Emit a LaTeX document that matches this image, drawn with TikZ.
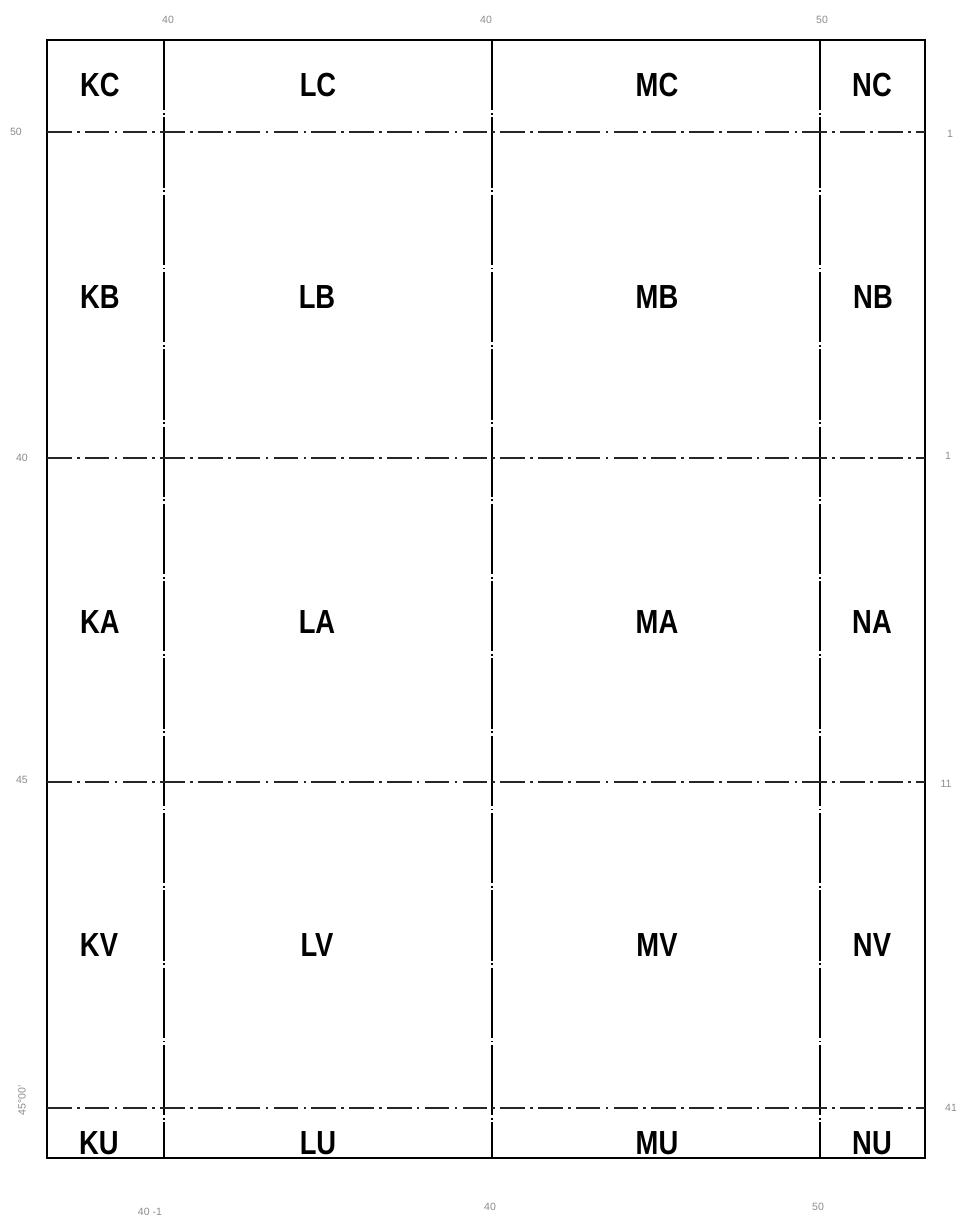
\documentclass[tikz,border=0pt]{standalone}
\usepackage{fontspec}
\setmainfont{Liberation Sans}
\newfontfamily\cellfont[FakeStretch=0.82]{Liberation Sans}
\begin{document}
\begin{tikzpicture}[x=0.02cm,y=-0.02cm,
  cell/.style={font=\cellfont\bfseries\fontsize{19}{19}\selectfont, inner sep=0pt},
  tick/.style={font=\fontsize{6}{6}\selectfont, text=black!45, inner sep=0pt},
  frame/.style={line width=0.9pt, black},
  vline/.style={line width=0.9pt, black, dash pattern=on 40pt off 1.5pt on 1pt off 1.5pt},
  hline/.style={line width=0.7pt, black!85, dash pattern=on 14pt off 3pt on 1.5pt off 3pt}]
\useasboundingbox (0,0) rectangle (957,1221);
% outer frame
\draw[frame] (47,40) rectangle (925,1158);
% vertical dividers
\foreach \x in {164,492,820} \draw[vline] (\x,40) -- (\x,1158);
% horizontal dash-dot dividers
\foreach \y in {132,458,782,1108} \draw[hline] (47,\y) -- (925,\y);
% cell labels
\node[cell] (KC) at (100,85) {KC};
\node[cell] (LC) at (318,85) {LC};
\node[cell] (MC) at (657,85) {MC};
\node[cell] (NC) at (872,85) {NC};
\node[cell] (KB) at (100,297) {KB};
\node[cell] (LB) at (317,297) {LB};
\node[cell] (MB) at (657,297) {MB};
\node[cell] (NB) at (873,297) {NB};
\node[cell] (KA) at (100,622) {KA};
\node[cell] (LA) at (317,622) {LA};
\node[cell] (MA) at (657,622) {MA};
\node[cell] (NA) at (872,622) {NA};
\node[cell] (KV) at (99,945) {KV};
\node[cell] (LV) at (317,945) {LV};
\node[cell] (MV) at (657,945) {MV};
\node[cell] (NV) at (872,945) {NV};
\node[cell] (KU) at (99,1143) {KU};
\node[cell] (LU) at (318,1143) {LU};
\node[cell] (MU) at (657,1143) {MU};
\node[cell] (NU) at (872,1143) {NU};
% faint margin graduations
\node[tick] (t1) at (168,20) {40};
\node[tick] (t2) at (486,20) {40};
\node[tick] (t3) at (822,20) {50};
\node[tick] (l1) at (16,132) {50};
\node[tick] (l2) at (22,458) {40};
\node[tick] (l3) at (22,780) {45};
\node[tick] (r1) at (950,134) {1};
\node[tick] (r2) at (948,456) {1};
\node[tick] (r3) at (946,784) {11};
\node[tick] (r4) at (951,1108) {41};
\node[tick] (b1) at (150,1212) {40 -1};
\node[tick] (b2) at (490,1207) {40};
\node[tick] (b3) at (818,1207) {50};
\node[tick, rotate=90] (v1) at (22,1100) {45°00'};
\end{tikzpicture}
\end{document}
